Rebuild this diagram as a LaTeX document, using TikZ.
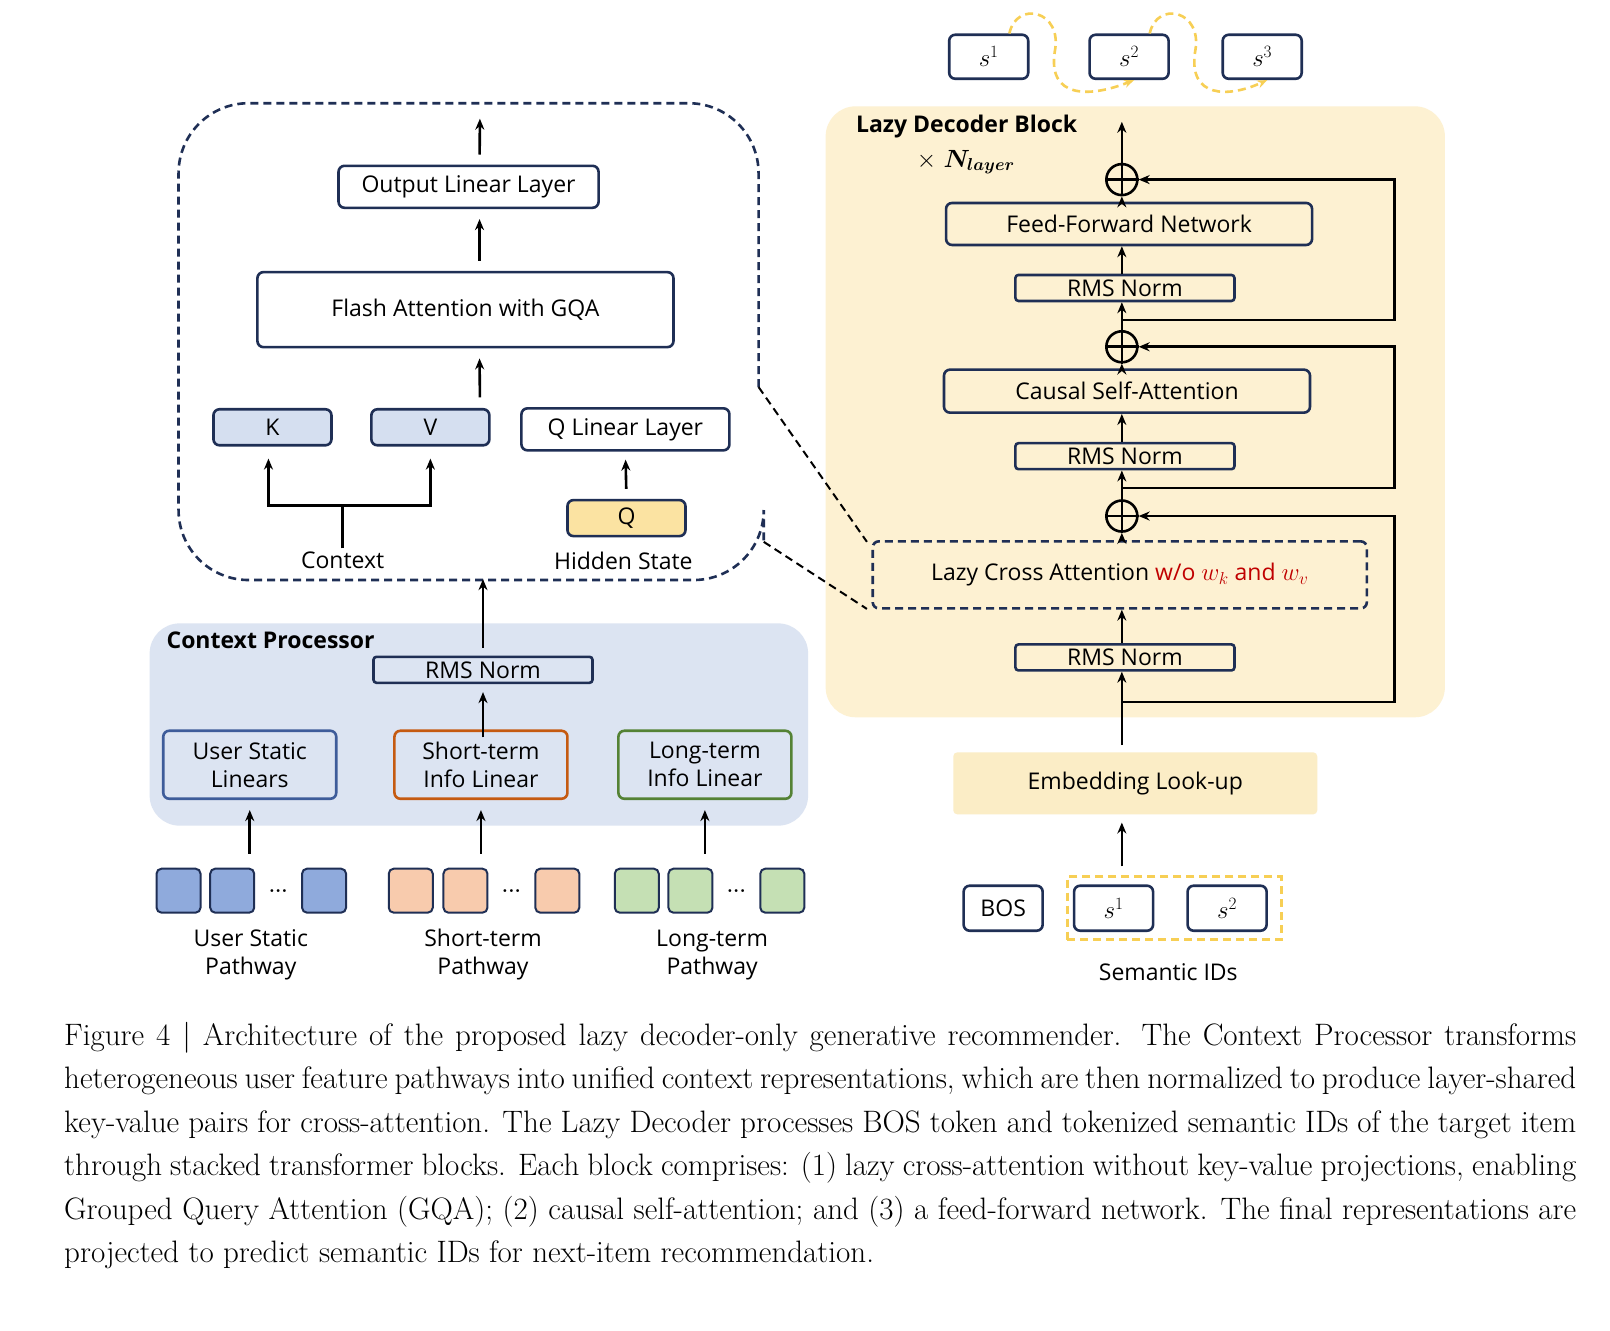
\documentclass[tikz,border=0pt]{standalone}
\usepackage{amsmath,bm}
\usepackage{fontspec}
\setsansfont{Open Sans}
\usetikzlibrary{arrows.meta,calc}
\definecolor{navy}{HTML}{1F2F55}
\definecolor{cpfill}{HTML}{DCE4F2}
\definecolor{ldfill}{HTML}{FDF1D2}
\definecolor{embfill}{HTML}{FBEDC6}
\definecolor{kvfill}{HTML}{D5DFF0}
\definecolor{qfill}{HTML}{FBE3A2}
\definecolor{ublue}{HTML}{8FAADC}
\definecolor{uedge}{HTML}{3E5C9A}
\definecolor{sorange}{HTML}{F8CBAD}
\definecolor{oedge}{HTML}{C55A11}
\definecolor{lgreen}{HTML}{C5E0B4}
\definecolor{gedge}{HTML}{548235}
\definecolor{sgold}{HTML}{F7CF55}
\definecolor{redtxt}{HTML}{C00000}
\tikzset{
  lbl/.style={font=\sffamily\fontsize{23}{28}\selectfont},
  dsh/.style={dash pattern=on 8pt off 5pt},
  blk/.style={lbl, draw=navy, line width=2.6pt, rounded corners=6pt, inner sep=0pt},
  sq/.style={draw=navy, line width=2pt, rounded corners=5pt, minimum width=44, minimum height=44},
  arr/.style={line width=2.6pt, -{Stealth[length=11pt,width=9pt]}},
  plus/.style={circle, draw=black, line width=2.6pt, minimum size=31, inner sep=0pt},
  smath/.style={font=\fontsize{25}{28}\selectfont},
}
\begin{document}
\begin{tikzpicture}[x=1.032pt, y=-1.032pt]
  \useasboundingbox (0,0) rectangle (1560,1289);
  \fill[white] (0,0) rectangle (1560,1289);
  % background regions
  \fill[cpfill, rounded corners=30] (145,604) rectangle (783,800);
  \fill[ldfill, rounded corners=30] (800,103) rectangle (1400,695);
  \node[lbl, font=\sffamily\bfseries\fontsize{23}{28}\selectfont, anchor=west] (cptitle) at (158,620) {Context Processor};
  \node[lbl, font=\sffamily\bfseries\fontsize{23}{28}\selectfont, anchor=west] (ldtitle) at (826,123) {Lazy Decoder Block};
  \node[anchor=west, font=\fontsize{24}{28}\selectfont] (nl) at (885,157) {$\times\ \bm{N_{layer}}$};

  % attention detail
  \draw[dsh, line width=2.6pt, navy, rounded corners=70]
    (735,375) -- (735,100) -- (173,100) -- (173,562) -- (740,562) -- (740,525);
  \node[blk, minimum width=260, minimum height=42] (out) at (454,181) {Output Linear Layer};
  \node[blk, minimum width=416, minimum height=75] (flash) at (451,300) {Flash Attention with GQA};
  \node[blk, fill=kvfill, minimum width=118, minimum height=36] (k) at (264,414) {K};
  \node[blk, fill=kvfill, minimum width=118, minimum height=36] (v) at (417,414) {V};
  \node[blk, minimum width=208, minimum height=42] (ql) at (606,416) {Q Linear Layer};
  \node[blk, fill=qfill, minimum width=118, minimum height=36] (q) at (607,502) {Q};
  \node[lbl] (ctx) at (332,543) {Context};
  \node[lbl] (hid) at (604,543) {Hidden State};
  \coordinate (otop) at (465,115);
  \coordinate (kvj) at (332,490);
  \draw[arr, shorten <=10pt] ([xshift=11pt]out.north) -- (otop);
  \draw[arr, shorten <=10pt, shorten >=10pt] ([xshift=14pt]flash.north) -- ([xshift=11pt]out.south);
  \draw[arr, shorten >=10pt] (465,385) -- ([xshift=14pt]flash.south);
  \draw[arr, shorten <=10pt, shorten >=8pt] (q.north) -- (ql.south);
  \draw[line width=2.6pt] (ctx.north) -- (kvj);
  \draw[arr, shorten >=12pt] (kvj) -| ([xshift=-4pt]k.south);
  \draw[arr, shorten >=12pt] (kvj) -| (v.south);
  \draw[dsh, line width=2pt] (735,375) -- (840,525);
  \draw[dsh, line width=2pt] (740,525) -- (840,590);

  % context processor
  \node[blk, rounded corners=3pt, minimum width=219, minimum height=26] (rms0) at (468,649) {RMS Norm};
  \node[blk, draw=uedge, align=center, minimum width=173, minimum height=68] (usl) at (242,741) {User Static\\Linears};
  \node[blk, draw=oedge, align=center, minimum width=173, minimum height=68] (stl) at (466,741) {Short-term\\Info Linear};
  \node[blk, draw=gedge, align=center, minimum width=173, minimum height=68] (ltl) at (683,741) {Long-term\\Info Linear};
  \draw[arr, shorten <=8pt] (rms0.north) -- ++(0,-74);
  \draw[arr, shorten >=8pt] ([yshift=-8pt]stl.north -| rms0) -- (rms0.south);
  \foreach \nm/\col/\xa/\xb/\xc in {u/ublue/173/225/314, s/sorange/398/451/540, l/lgreen/617/669/758}{
    \node[sq, fill=\col] (\nm1) at (\xa,863) {};
    \node[sq, fill=\col] (\nm2) at (\xb,863) {};
    \node[sq, fill=\col] (\nm3) at (\xc,863) {};
    \node[font=\bfseries\fontsize{20}{22}\selectfont] (\nm d) at ($(\nm2)!.5!(\nm3)$) {...};
  }
  \draw[arr, shorten >=10pt] ([yshift=14pt]usl.south |- u1.north) -- (usl.south);
  \draw[arr, shorten >=10pt] ([yshift=14pt]stl.south |- s1.north) -- (stl.south);
  \draw[arr, shorten >=10pt] ([yshift=14pt]ltl.south |- l1.north) -- (ltl.south);
  \node[lbl, align=center] (upw) at (243,925) {User Static\\Pathway};
  \node[lbl, align=center] (spw) at (468,925) {Short-term\\Pathway};
  \node[lbl, align=center] (lpw) at (690,925) {Long-term\\Pathway};

  % lazy decoder
  \node[blk, minimum width=366, minimum height=42] (ffn) at (1094,217) {Feed-Forward Network};
  \node[blk, rounded corners=3pt, minimum width=219, minimum height=26] (n3) at (1090,279) {RMS Norm};
  \node[blk, minimum width=366, minimum height=43] (csa) at (1092,379) {Causal Self-Attention};
  \node[blk, rounded corners=3pt, minimum width=219, minimum height=26] (n2) at (1090,442) {RMS Norm};
  \node[blk, dsh, minimum width=494, minimum height=67] (lca) at (1085,557)
    {Lazy Cross Attention \textcolor{redtxt}{w/o $w_k$ and $w_v$}};
  \node[blk, rounded corners=3pt, minimum width=219, minimum height=26] (n1) at (1090,637) {RMS Norm};
  \node[lbl, fill=embfill, rounded corners=4pt, minimum width=364, minimum height=62] (emb) at (1100,759) {Embedding Look-up};
  \node[plus] (p1) at (1087,500) {};
  \node[plus] (p2) at (1087,336) {};
  \node[plus] (p3) at (1087,174) {};
  \foreach \p in {p1,p2,p3}
    \draw[line width=2.6pt] (\p.west) -- (\p.east) (\p.north) -- (\p.south);
  \coordinate (r1) at (1087,680);
  \coordinate (r2) at (1087,473);
  \coordinate (r3) at (1087,310);
  \coordinate (dtop) at (1087,118);
  \draw[arr] (1087,722) -- (n1.south -| r1);
  \draw[arr] (n1.north -| r1) -- (lca.south -| r1);
  \draw[arr] (lca.north -| r1) -- (p1.south);
  \draw[arr] (p1.north) -- (n2.south -| r1);
  \draw[arr] (n2.north -| r1) -- (csa.south -| r1);
  \draw[arr] (csa.north -| r1) -- (p2.south);
  \draw[arr] (p2.north) -- (n3.south -| r1);
  \draw[arr] (n3.north -| r1) -- (ffn.south -| r1);
  \draw[arr] (ffn.north -| r1) -- (p3.south);
  \draw[arr] (p3.north) -- (dtop);
  \draw[arr] (r1) -- ++(264,0) |- (p1.east);
  \draw[arr] (r2) -- ++(264,0) |- (p2.east);
  \draw[arr] (r3) -- ++(264,0) |- (p3.east);

  % outputs
  \node[blk, smath, minimum width=79, minimum height=44] (o1) at (958,55) {$s^1$};
  \node[blk, smath, minimum width=79, minimum height=44] (o2) at (1094,55) {$s^2$};
  \node[blk, smath, minimum width=79, minimum height=44] (o3) at (1223,55) {$s^3$};
  \draw[sgold, dsh, line width=2.6pt, -{Stealth[length=10pt,width=8pt]}]
    (o1.north) ++(20,0) .. controls (985,0) and (1030,10) .. (1022,50)
    .. controls (1015,95) and (1055,95) .. ([xshift=5pt]o2.south);
  \draw[sgold, dsh, line width=2.6pt, -{Stealth[length=10pt,width=8pt]}]
    (o2.north) ++(20,0) .. controls (1121,0) and (1166,10) .. (1158,50)
    .. controls (1151,95) and (1190,95) .. ([xshift=5pt]o3.south);

  % inputs
  \node[blk, minimum width=79, minimum height=45] (bos) at (972,880) {BOS};
  \node[blk, smath, minimum width=79, minimum height=45] (i1) at (1079,880) {$s^1$};
  \node[blk, smath, minimum width=79, minimum height=45] (i2) at (1189,880) {$s^2$};
  \node[draw=sgold, dsh, line width=2.6pt, minimum width=214, minimum height=63] (sid) at (1138,880) {};
  \node[lbl] (sidl) at (1132,942) {Semantic IDs};
  \draw[arr, shorten <=9pt, shorten >=8pt] (sid.north -| r1) -- (emb.south -| r1);

  % caption
  \node[anchor=north west, text width=1512pt, align=justify, inner sep=0pt,
    font=\fontsize{31}{43.5}\selectfont] (cap) at (62,990)
    {Figure 4 | Architecture of the proposed lazy decoder-only generative recommender. The Context Processor transforms heterogeneous user feature pathways into unified context representations, which are then normalized to produce layer-shared key-value pairs for cross-attention. The Lazy Decoder processes BOS token and tokenized semantic IDs of the target item through stacked transformer blocks. Each block comprises: (1) lazy cross-attention without key-value projections, enabling Grouped Query Attention (GQA); (2) causal self-attention; and (3) a feed-forward network. The final representations are projected to predict semantic IDs for next-item recommendation.};
\end{tikzpicture}
\end{document}
